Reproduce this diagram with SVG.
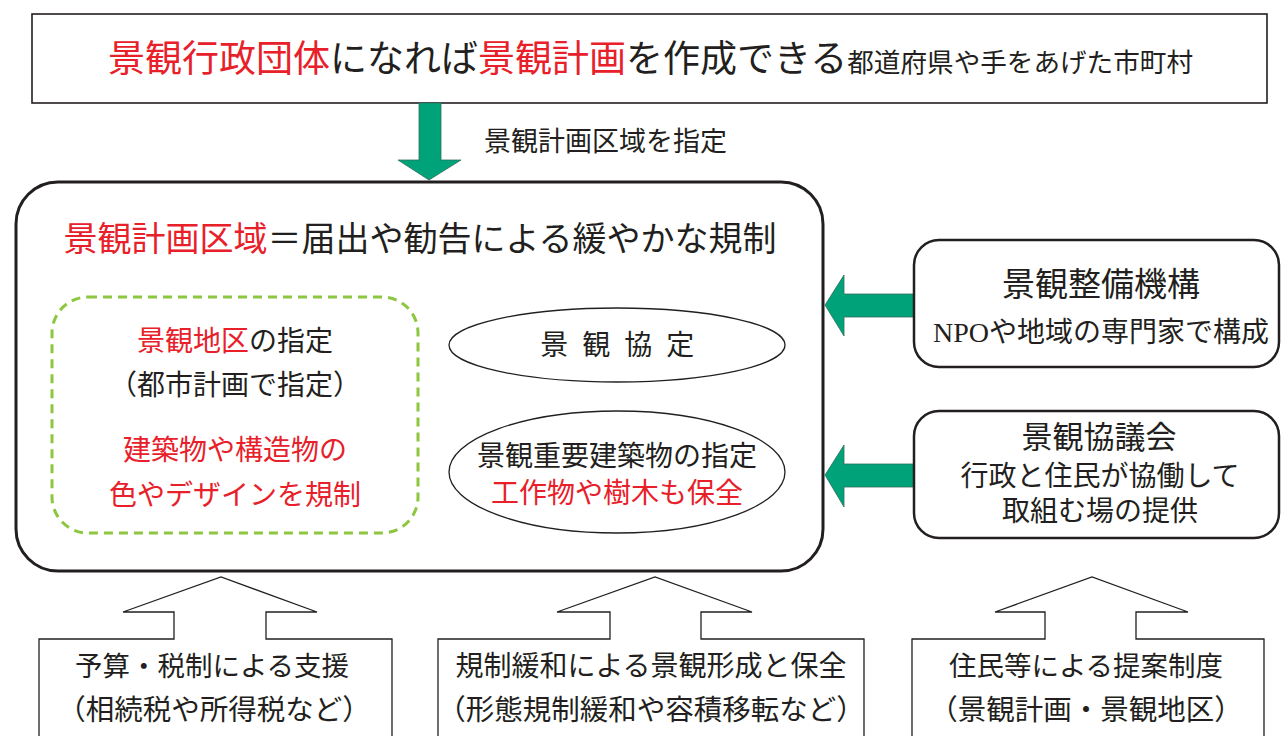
<svg xmlns="http://www.w3.org/2000/svg" width="1281" height="736" viewBox="0 0 1281 736">
<style>
text{font-family:"Liberation Serif","Noto Sans CJK JP",serif;fill:#231f20;}
.r{fill:#e8202a;}
.c{text-anchor:middle;}
.box{fill:#fff;stroke:#231f20;}
.garrow{fill:#00a27a;stroke:#2f6f5a;stroke-width:0.8;}
.harrow{fill:#fff;stroke:#231f20;stroke-width:1.3;}
</style>
<rect width="1281" height="736" fill="#fff"/>
<g id="top">
<rect class="box" x="32" y="14" width="1235" height="89" stroke-width="1.6"/>
<text x="108" y="72" font-size="37"><tspan class="r">景観行政団体</tspan>になれば<tspan class="r">景観計画</tspan>を作成できる<tspan font-size="26.6">都道府県や手をあげた市町村</tspan></text>
</g>
<g id="connectors">
<polygon class="garrow" points="419,103 441,103 441,160 461,160 429,180 398,160 419,160"/>
<polygon class="garrow" points="914,294 844,294 844,275 825,305 844,336 844,317 914,317"/>
<polygon class="garrow" points="914,464 844,464 844,445 825,475 844,507 844,487 914,487"/>
</g>
<text id="label-shitei" x="484" y="151" font-size="27">景観計画区域を指定</text>
<g id="main">
<rect class="box" x="16" y="182" width="807" height="389" rx="42" stroke-width="3"/>
<text class="c" x="420" y="251" font-size="34"><tspan class="r">景観計画区域</tspan>＝届出や勧告による緩やかな規制</text>
</g>
<g id="keikan-chiku">
<rect x="52" y="297" width="366" height="236" rx="36" fill="none" stroke="#8dc63f" stroke-width="3" stroke-dasharray="9 6"/>
<text class="c" x="235" y="351" font-size="28"><tspan class="r">景観地区</tspan>の指定</text>
<text class="c" x="235" y="395" font-size="28">（都市計画で指定）</text>
<text class="c r" x="235" y="460" font-size="28">建築物や構造物の</text>
<text class="c r" x="235" y="505" font-size="28">色やデザインを規制</text>
</g>
<g id="kyotei">
<ellipse cx="617" cy="345" rx="168" ry="37" fill="#fff" stroke="#231f20" stroke-width="1.3"/>
<text class="c" x="619" y="355" font-size="28" letter-spacing="3.5">景 観 協 定</text>
</g>
<g id="juyo">
<ellipse cx="617" cy="472" rx="168" ry="61" fill="#fff" stroke="#231f20" stroke-width="1.3"/>
<text class="c" x="617" y="466" font-size="28">景観重要建築物の指定</text>
<text class="c r" x="617" y="503" font-size="28">工作物や樹木も保全</text>
</g>
<g id="seibi">
<rect class="box" x="914" y="240" width="365" height="127" rx="25" stroke-width="2.5"/>
<text class="c" x="1101" y="296" font-size="33">景観整備機構</text>
<text class="c" x="1101" y="342" font-size="28">NPOや地域の専門家で構成</text>
</g>
<g id="kyogikai">
<rect class="box" x="914" y="411" width="365" height="127" rx="25" stroke-width="2.5"/>
<text class="c" x="1099" y="448" font-size="31">景観協議会</text>
<text class="c" x="1100" y="486" font-size="28">行政と住民が協働して</text>
<text class="c" x="1100" y="521" font-size="28">取組む場の提供</text>
</g>
<g id="shien">
<path class="harrow" d="M39,740 V639 H174 V612 H123 L221,577 L317,612 H266 V639 H392 V740"/>
<text class="c" x="212" y="676" font-size="27.5">予算・税制による支援</text>
<text class="c" x="214" y="720" font-size="28.5">（相続税や所得税など）</text>
</g>
<g id="kanwa">
<path class="harrow" d="M438,740 V639 H610 V612 H557 L655,577 L752,612 H701 V639 H864 V740"/>
<text class="c" x="651" y="676" font-size="28">規制緩和による景観形成と保全</text>
<text class="c" x="651" y="720" font-size="28.5">（形態規制緩和や容積移転など）</text>
</g>
<g id="teian">
<path class="harrow" d="M912,740 V639 H1045 V612 H995 L1092,577 L1188,612 H1136 V639 H1264 V740"/>
<text class="c" x="1086" y="676" font-size="27.5">住民等による提案制度</text>
<text class="c" x="1086" y="720" font-size="28.5">（景観計画・景観地区）</text>
</g>
</svg>
